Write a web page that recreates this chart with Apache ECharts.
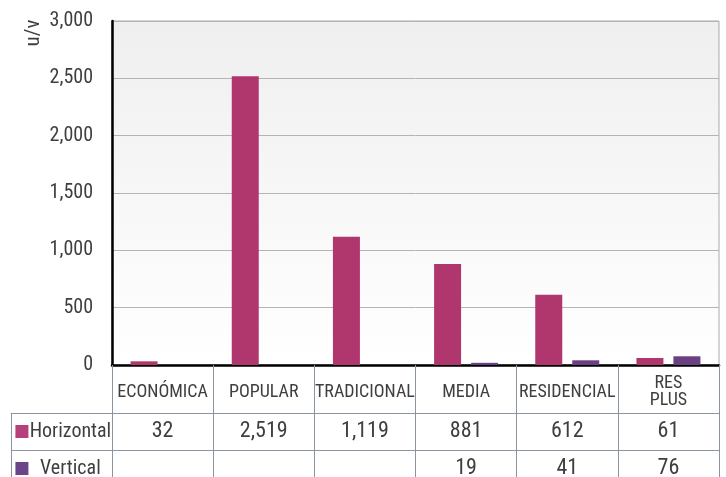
<!DOCTYPE html>
<html>
<head>
<meta charset="utf-8">
<script src="https://cdn.jsdelivr.net/npm/echarts@6/dist/echarts.min.js"></script>
<style>
  html, body { margin: 0; padding: 0; background: #fff; }
  #chart { width: 726px; height: 477px; }
</style>
</head>
<body>
<div id="chart"></div>
<script>
// Units sold per housing segment, split by building type
const categories = ['ECONÓMICA', 'POPULAR', 'TRADICIONAL', 'MEDIA', 'RESIDENCIAL', 'RES\nPLUS'];
const seriesNames = ['Horizontal', 'Vertical'];
const horizontal = [32, 2519, 1119, 881, 612, 61];
const vertical = [null, null, null, 19, 41, 76];
const colors = ['#AF376E', '#6B3F84'];

const FONT = "'Roboto Condensed', 'DejaVu Sans Condensed', sans-serif";
const TEXT = '#3f3f3f';
const RULE = '#8b95a0';

const fmt = v => (v == null ? '' : v.toLocaleString('en-US'));

// Data table cells: [column, row, value]; column 0 holds the row headers
const tableCells = [];
[horizontal, vertical].forEach((arr, r) => {
  arr.forEach((v, i) => tableCells.push([i + 1, r, v]));
});
const rowHeaders = seriesNames.map((n, r) => [0, r, n]);

const chart = echarts.init(document.getElementById('chart'));

const plotLeft = 112, plotRight = 7;
const colWidth = (726 - plotLeft - plotRight) / categories.length;

chart.setOption({
  animation: false,
  textStyle: { fontFamily: FONT },
  grid: [
    {
      left: plotLeft, right: plotRight, top: 21, bottom: 112,
      outerBoundsMode: 'none',
      show: true, borderColor: '#a9a9a9', borderWidth: 1,
      backgroundColor: new echarts.graphic.LinearGradient(0, 0, 0, 1, [
        { offset: 0, color: '#efefef' },
        { offset: 1, color: '#ffffff' }
      ])
    },
    { left: plotLeft - colWidth, right: plotRight, top: 413, height: 74, outerBoundsMode: 'none' }
  ],
  xAxis: [
    {
      type: 'category', gridIndex: 0, data: categories,
      axisLine: { lineStyle: { color: '#000', width: 2.5 } },
      axisTick: { show: true, interval: 0, length: 48, lineStyle: { color: RULE, width: 1 } },
      axisLabel: {
        interval: 0, margin: 27, verticalAlign: 'middle',
        fontSize: 18, lineHeight: 17, color: TEXT, fontFamily: FONT
      },
      splitLine: { show: false }
    },
    {
      type: 'category', gridIndex: 1, data: [''].concat(categories),
      axisLine: { show: false }, axisTick: { show: false }, axisLabel: { show: false },
      splitLine: { show: true, interval: 0, lineStyle: { color: RULE, width: 1 } }
    }
  ],
  yAxis: [
    {
      type: 'value', gridIndex: 0, min: 0, max: 3000, interval: 500,
      axisLine: { show: true, lineStyle: { color: '#000', width: 2.5 } },
      axisTick: { show: false },
      axisLabel: { margin: 19, fontSize: 20, color: TEXT, fontFamily: FONT, formatter: v => fmt(v) },
      splitLine: { lineStyle: { color: '#b4b4b4', width: 1 } }
    },
    {
      type: 'category', gridIndex: 1, inverse: true, data: seriesNames,
      axisLine: { show: false }, axisTick: { show: false }, axisLabel: { show: false },
      splitLine: { show: true, interval: 0, lineStyle: { color: RULE, width: 1 } }
    }
  ],
  graphic: [{
    type: 'text', x: 34, y: 33, rotation: Math.PI / 2,
    style: { text: 'u/v', font: '21px ' + FONT, fill: TEXT, align: 'center', verticalAlign: 'middle' }
  }],
  series: [
    {
      name: seriesNames[0], type: 'bar', xAxisIndex: 0, yAxisIndex: 0,
      data: horizontal, barWidth: 27, barGap: '37%',
      itemStyle: { color: colors[0] }
    },
    {
      name: seriesNames[1], type: 'bar', xAxisIndex: 0, yAxisIndex: 0,
      data: vertical, barWidth: 27, barGap: '37%',
      itemStyle: { color: colors[1] }
    },
    {
      type: 'scatter', xAxisIndex: 1, yAxisIndex: 1, symbolSize: 0, silent: true,
      itemStyle: { opacity: 1 },
      data: tableCells,
      label: {
        show: true, position: 'inside', fontSize: 22, color: TEXT, fontFamily: FONT,
        formatter: p => fmt(p.data[2])
      }
    },
    {
      type: 'scatter', xAxisIndex: 1, yAxisIndex: 1, symbolSize: 0, silent: true,
      itemStyle: { opacity: 1 },
      data: rowHeaders,
      label: {
        show: true, position: 'inside', color: TEXT, fontFamily: FONT,
        formatter: p => '{sq' + p.data[1] + '|}{gap|}{name|' + p.data[2] + '}',
        rich: {
          sq0: { width: 13, height: 13, backgroundColor: '#B5407B' },
          sq1: { width: 13, height: 13, backgroundColor: '#6A4589' },
          gap: { width: 5 },
          name: { width: 74, align: 'center', fontSize: 20, color: TEXT, fontFamily: FONT }
        }
      }
    }
  ]
});
</script>
</body>
</html>
